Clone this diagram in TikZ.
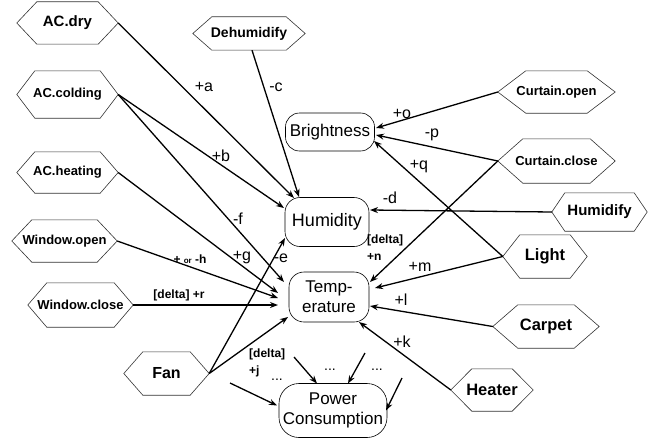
\documentclass[tikz,border=0pt]{standalone}
\usepackage{fontspec}
\setmainfont{Liberation Sans}
\usetikzlibrary{arrows.meta,calc}
\newcommand{\hexa}[8]{%
 \node[hexbox, minimum width=#4pt, minimum height=#5pt, font=\bfseries\fontsize{#7}{#7}\selectfont] (#1) at (#2,#3) {#8};
 \draw[hexline] (#1.west) -- ([xshift=#6pt]#1.north west) -- ([xshift=-#6pt]#1.north east) -- (#1.east) -- ([xshift=-#6pt]#1.south east) -- ([xshift=#6pt]#1.south west) -- cycle;
}
\begin{document}
\begin{tikzpicture}[x=1pt,y=-1pt,
 conn/.style={line width=1.3pt,-{Stealth[length=8pt,width=6pt]}},
 hexbox/.style={inner sep=0pt},
 hexline/.style={line width=0.6pt, draw=black!80},
 rbox/.style={draw, line width=0.6pt, rounded corners=#1, inner sep=0pt, align=center, font=\fontsize{17}{20}\selectfont},
 rbox/.default=14pt,
 lab/.style={font=\fontsize{16}{18}\selectfont, inner sep=0pt},
 blab/.style={font=\bfseries\fontsize{12}{17}\selectfont, inner sep=0pt, align=left},
 dots/.style={font=\fontsize{14}{14}\selectfont, inner sep=0pt},
]
\useasboundingbox (0,0) rectangle (658,444);

% hexagons
\hexa{ACdry}{67.5}{23}{101}{42}{20}{15}{AC.dry}
\hexa{Dehum}{249}{33.5}{112}{33}{19}{14}{Dehumidify}
\hexa{ACcold}{67.5}{94.5}{101}{47}{18}{13}{AC.colding}
\hexa{ACheat}{67.5}{172.5}{101}{41}{18}{13}{AC.heating}
\hexa{Wopen}{64.5}{241}{105}{42}{20}{13}{Window.open}
\hexa{Wclose}{80.5}{305}{105}{44}{19}{13}{Window.close}
\hexa{Fan}{166.5}{373.5}{85}{43}{19}{16}{Fan}
\hexa{Copen}{556.5}{92}{117}{42}{28}{13}{Curtain.open}
\hexa{Cclose}{556.5}{161}{117}{44}{25}{13}{Curtain.close}
\hexa{Humify}{599.5}{212}{95}{38}{13}{15}{Humidify}
\hexa{Light}{545}{256.5}{84}{43}{17}{16.5}{Light}
\hexa{Carpet}{546}{326.5}{106}{43}{25}{16.5}{Carpet}
\hexa{Heater}{492}{390}{82}{42}{21}{16.5}{Heater}

% rounded boxes
\node[rbox, minimum width=89pt, minimum height=38pt] (Bright) at (330,132) {Brightness};
\node[rbox=15pt, minimum width=84pt, minimum height=49pt, font=\fontsize{18}{20}\selectfont] (Humid) at (327,222) {Humidity};
\node[rbox=15pt, minimum width=80pt, minimum height=50pt] (Temp) at (329,297) {Temp-\\erature};
\node[rbox=20pt, minimum width=108pt, minimum height=54pt] (Power) at (333,410.5) {Power\\Consumption};

% connectors to Humidity
\draw[conn] (ACdry.east) -- ($(Humid.center)+(-33,-24)$);
\draw[conn] ([xshift=3pt]Dehum.south) -- ($(Humid.center)+(-28,-25)$);
\draw[conn] (ACcold.east) -- ($(Humid.center)+(-43,-14)$);
\draw[conn] (Fan.east) -- ($(Humid.center)+(-42,16)$);
\draw[conn] (Humify.west) -- ($(Humid.center)+(43,-12)$);
% connectors to Brightness
\draw[conn] (Copen.west) -- ($(Bright.center)+(46,-4)$);
\draw[conn] (Cclose.west) -- ($(Bright.center)+(46,3)$);
\draw[conn] (Light.west) -- ($(Bright.center)+(44,9)$);
% connectors to Temperature
\draw[conn] (ACcold.east) -- ($(Temp.center)+(-45,-15)$);
\draw[conn] (ACheat.east) -- ($(Temp.center)+(-51,-4)$);
\draw[conn] (Wopen.east) -- ($(Temp.center)+(-51,1)$);
\draw[conn] (Wclose.east) -- ($(Temp.center)+(-51,8)$);
\draw[conn] (Fan.east) -- ($(Temp.center)+(-41,20)$);
\draw[conn] (Cclose.west) -- ($(Temp.center)+(41,-15)$);
\draw[conn] (Light.west) -- ($(Temp.center)+(46,-9)$);
\draw[conn] (Carpet.west) -- ($(Temp.center)+(41,9)$);
\draw[conn] (Heater.west) -- ($(Temp.center)+(30,25)$);
% connectors to Power Consumption
\coordinate (p1) at (230,383);
\coordinate (p2) at (294,357);
\coordinate (p3) at (365,353);
\coordinate (p4) at (402,378);
\draw[conn] (p1) -- ($(Power.center)+(-56,-5)$);
\draw[conn] (p2) -- ($(Power.center)+(-16,-27)$);
\draw[conn] (p3) -- ($(Power.center)+(15,-27)$);
\draw[conn] (p4) -- ($(Power.center)+(53,0)$);

% labels
\node[lab] (la) at (204,87) {+a};
\node[lab] (lc) at (276,87) {-c};
\node[lab] (lo) at (402,114) {+o};
\node[lab] (lp) at (432,135) {-p};
\node[lab] (lb) at (221,156) {+b};
\node[lab] (lq) at (419,167) {+q};
\node[lab] (ld) at (390,198) {-d};
\node[lab] (lf) at (238,219) {-f};
\node[lab] (lg) at (242,258) {+g};
\node[lab] (le) at (281,258) {-e};
\node[blab] (lh) at (190,259) {+ {\fontsize{8}{9}\selectfont or} -h};
\node[blab, anchor=north west] (ln) at (367,235) {[delta]\\+n};
\node[lab] (lm) at (420,267) {+m};
\node[lab] (ll) at (401,300) {+l};
\node[blab] (lr) at (179,295) {[delta] +r};
\node[lab] (lk) at (402,342) {+k};
\node[blab, anchor=north west] (lj) at (249,349) {[delta]\\+j};
\node[dots] (d1) at (277,380) {...};
\node[dots] (d2) at (330,370) {...};
\node[dots] (d3) at (377,370) {...};
\end{tikzpicture}
\end{document}
